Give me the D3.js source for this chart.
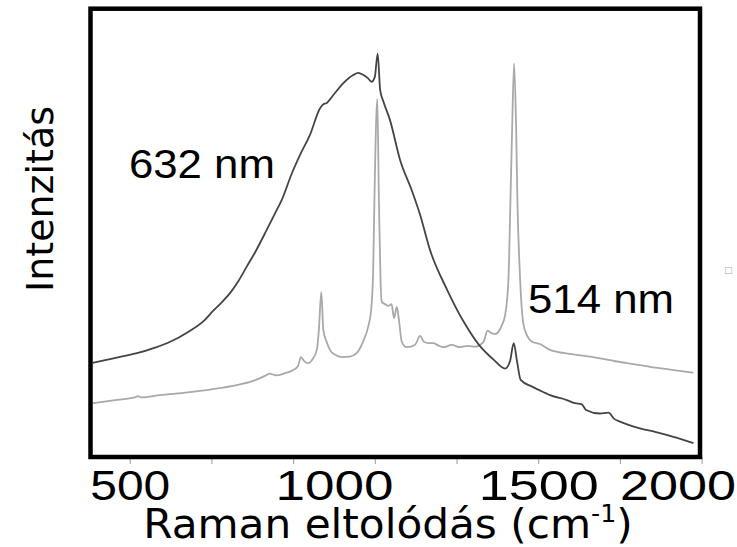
<!DOCTYPE html>
<html><head><meta charset="utf-8">
<script src="https://cdn.jsdelivr.net/npm/d3@7"></script>
<style>body{margin:0;background:#fff} svg{display:block}</style>
</head><body>
<svg id="c" width="737" height="547"></svg>
<script>
// ---- data (Raman shift in cm-1, intensity in arbitrary units 0-1000) ----
const shift632 = [410,440,479,520,562,599,643,684,704,724,746,765,786,806,835,856,872,897,917,941,966,974,981,998,1023,1047,1059,1072,1083,1092,1100,1107,1113,1121,1137,1162,1190,1211,1235,1277,1318,1355,1392,1419,1431,1440,1448,1457,1485,1517,1529,1570,1590,1606,1617,1651,1672,1686,1700,1749,1786,1831,1880];
const int632   = [210,216,224,232,244,257,279,306,326,344,366,391,424,455,506,544,573,633,674,718,778,787,789,807,834,852,857,852,845,837,848,900,819,793,752,662,596,540,462,373,301,250,216,197,214,254,214,172,157,143,138,127,120,118,105,97,99,85,79,64,56,45,31];
const shift514 = [410,464,513,520,528,574,643,724,770,806,831,843,858,880,900,912,919,927,936,946,958,963,969,974,982,990,1003,1020,1039,1056,1072,1083,1091,1096,1099,1106,1110,1114,1117,1125,1133,1141,1147,1154,1159,1166,1178,1198,1211,1220,1231,1243,1255,1268,1288,1309,1328,1345,1366,1376,1384,1394,1411,1419,1427,1432,1436,1441,1446,1449,1455,1463,1473,1485,1504,1529,1578,1627,1692,1749,1774,1823,1880];
const int514   = [120,127,133,136,133,138,144,154,162,171,181,186,182,187,194,203,223,214,209,216,239,283,368,283,257,239,228,223,224,232,259,288,328,417,573,799,573,395,346,341,337,341,310,335,306,257,245,250,270,257,254,254,249,245,250,245,248,246,257,282,277,274,294,317,395,573,729,878,729,573,410,301,270,257,252,239,230,224,213,205,201,195,188];
const minorTicks = [500,700,900,1100,1300,1500,1700,1900];
const tickLabels = [500,1000,1500,2000];
const tickLabelWidths = [80,118,120,116];
const seriesNames = ["632 nm","514 nm"];
const seriesLabelPos = [[498,622],[1475,321]];
const xTitle = "Raman eltolódás (cm";
const yTitle = "Intenzitás";

// ---- layout ----
const W = 737, H = 547;
const fr = {left:90.5, right:700, top:8.7, bottom:457};
const x = d3.scaleLinear().domain([404,1896]).range([fr.left, fr.right]);
const y = d3.scaleLinear().domain([0,1000]).range([fr.bottom, fr.top]);

const svg = d3.select("#c");
svg.append("rect").attr("width",W).attr("height",H).attr("fill","#fff");

svg.append("clipPath").attr("id","clip").append("rect")
  .attr("x",fr.left).attr("y",fr.top).attr("width",fr.right-fr.left).attr("height",fr.bottom-fr.top);

const line = d3.line().x(d=>x(d[0])).y(d=>y(d[1])).curve(d3.curveMonotoneX);
const d514 = shift514.map((s,i)=>[s,int514[i]]);
const d632 = shift632.map((s,i)=>[s,int632[i]]);

const g = svg.append("g").attr("clip-path","url(#clip)");
g.append("path").datum(d514).attr("d",line).attr("fill","none")
  .attr("stroke","#a9a9a9").attr("stroke-width",1.8).attr("stroke-linejoin","round");
g.append("path").datum(d632).attr("d",line).attr("fill","none")
  .attr("stroke","#444").attr("stroke-width",1.8).attr("stroke-linejoin","round");

// minor ticks below frame
const tickAxis = d3.axisBottom(x).tickValues(minorTicks).tickSize(7).tickFormat("");
const ta = svg.append("g").attr("transform",`translate(0,${fr.bottom})`).call(tickAxis);
ta.select(".domain").remove();
ta.selectAll("line").attr("stroke","#999").attr("stroke-width",1);

// tick labels
const labAxis = d3.axisBottom(x).tickValues(tickLabels).tickSize(0).tickPadding(0).tickFormat(d3.format("d"));
const la = svg.append("g").attr("transform",`translate(0,${fr.bottom})`).call(labAxis);
la.select(".domain").remove();
la.selectAll("text").attr("font-family","'Liberation Sans', Arial, sans-serif")
  .attr("font-size",43).attr("fill","#000").attr("dy",0).attr("y",43)
  .attr("textLength",(d,i)=>tickLabelWidths[i]).attr("lengthAdjust","spacingAndGlyphs");
la.selectAll(".tick").each(function(d,i){
  const t = d3.select(this).select("text");
  const tr = d3.select(this).attr("transform");
  const tx = +tr.match(/translate\(([-\d.]+)/)[1];
  const w = tickLabelWidths[i];
  if (tx + w/2 > W - 1) t.attr("x", (W - 1) - w/2 - tx);
});

// frame
svg.append("rect").attr("x",fr.left).attr("y",fr.top)
  .attr("width",fr.right-fr.left).attr("height",fr.bottom-fr.top)
  .attr("fill","none").attr("stroke","#000").attr("stroke-width",4.5);

// series labels
seriesNames.forEach((n,i)=>{
  svg.append("text").attr("x",x(seriesLabelPos[i][0])).attr("y",y(seriesLabelPos[i][1]))
    .attr("font-family","'Liberation Sans', Arial, sans-serif").attr("font-size",41)
    .attr("textLength",146).attr("lengthAdjust","spacingAndGlyphs")
    .attr("fill","#000").text(n);
});

// axis titles
const xt = svg.append("g").attr("transform","translate(388,538) scale(1.055,1)")
  .append("text").attr("x",0).attr("y",0)
  .attr("text-anchor","middle").attr("font-family","'DejaVu Sans', Verdana, sans-serif")
  .attr("font-size",40).attr("fill","#000");
xt.append("tspan").text(xTitle);
xt.append("tspan").attr("font-size",24).attr("dy",-16).text("-1");
xt.append("tspan").attr("dy",16).text(")");

svg.append("text").attr("transform",`translate(53,199) rotate(-90)`)
  .attr("text-anchor","middle").attr("font-family","'DejaVu Sans', Verdana, sans-serif")
  .attr("font-size",38).attr("fill","#000").text(yTitle);

// small gray artifact at right
svg.append("text").attr("x",724).attr("y",273).attr("font-size",9)
  .attr("fill","#aaa").attr("font-family","'DejaVu Sans', sans-serif").text("□");
</script>
</body></html>
